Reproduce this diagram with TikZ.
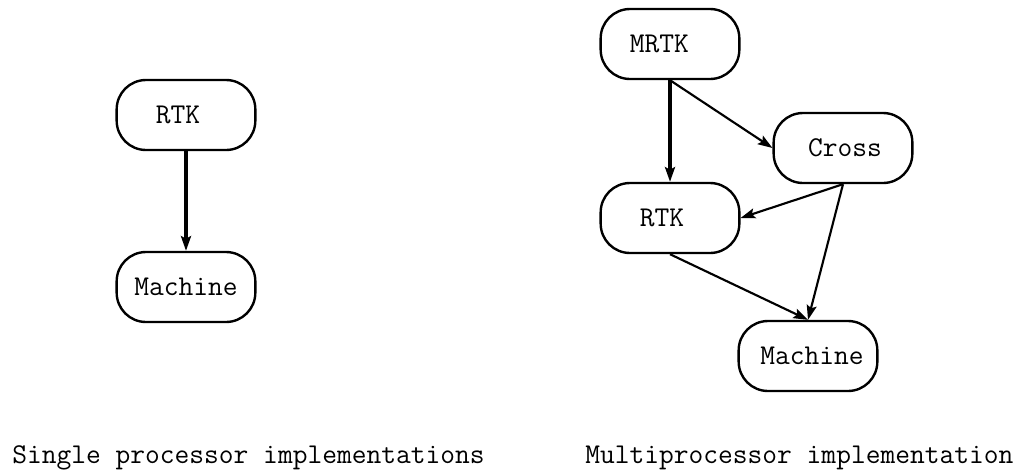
\documentclass[tikz,border=0pt]{standalone}
\usetikzlibrary{arrows.meta}

\begin{document}
\begin{tikzpicture}[x=0.75pt,y=0.75pt,yscale=-1,xscale=1,
  proc/.style={draw, line width=1.8pt, rounded corners=22pt, minimum width=104pt, minimum height=52.5pt, inner sep=0pt, font=\fontsize{21.5}{26}\selectfont\ttfamily},
  calls/.style={line width=1.6pt, -{Stealth[length=11pt,width=7.5pt,inset=2pt]}},
  callsmain/.style={calls, line width=2.6pt},
  caption/.style={anchor=base west, inner sep=0pt, font=\fontsize{21.5}{26}\selectfont\ttfamily}]
\useasboundingbox (0,0) rectangle (1031,469);

%Single processor
\node [proc] (rtkS) at (186,115) {RTK\hspace*{12pt}};
\node [proc] (machS) at (186,287) {Machine};
\draw [callsmain] (rtkS.south) -- (machS.north);

%Multiprocessor
\node [proc] (mrtk) at (670,44) {MRTK\hspace*{16pt}};
\node [proc] (cross) at (843,148) {\hspace*{3pt}Cross};
\node [proc] (rtkM) at (670,218) {RTK\hspace*{12pt}};
\node [proc] (machM) at (808,356) {\hspace*{6pt}Machine};
\draw [callsmain] (mrtk.south) -- (rtkM.north);
\draw [calls] (mrtk.south) -- (cross.west);
\draw [calls] (cross.south) -- (rtkM.east);
\draw [calls] (cross.south) -- (machM.north);
\draw [calls] (rtkM.south) -- (machM.north);

% Text Node
\node [caption] (capS) at (12,463) {Single processor implementations};
% Text Node
\node [caption] (capM) at (585,463) {Multiprocessor implementation};

\end{tikzpicture}
\end{document}
